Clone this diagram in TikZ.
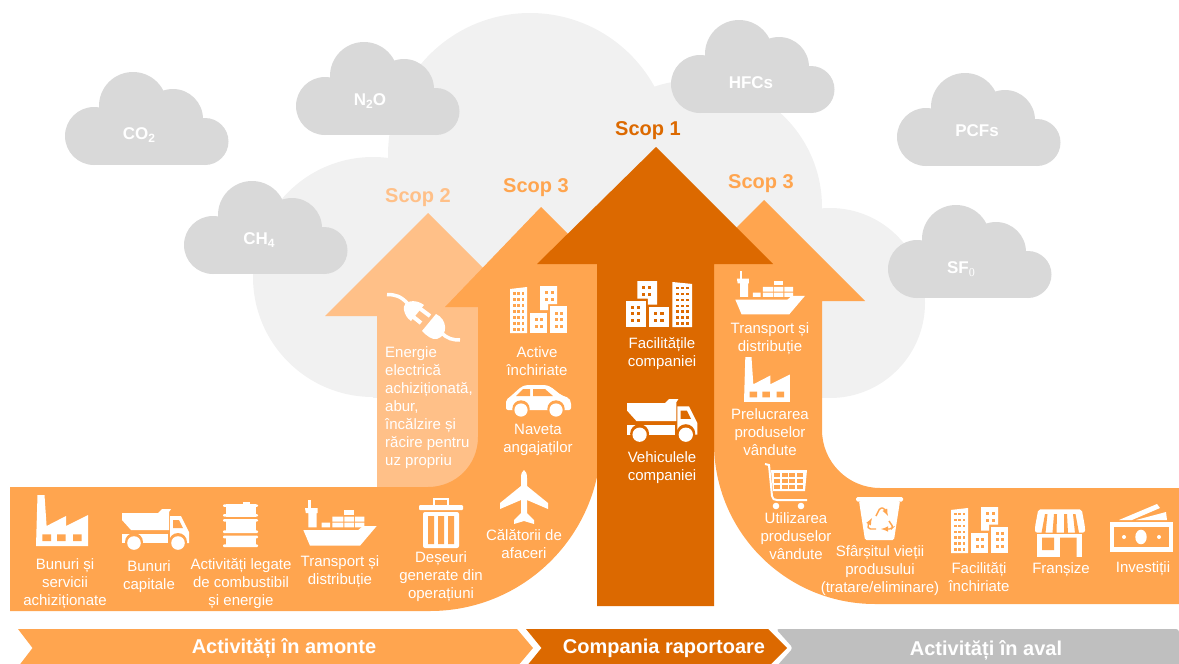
\documentclass[tikz,border=0pt]{standalone}
\usepackage{fontspec}
\setmainfont{Liberation Sans}
\newfontfamily\serifzero{Liberation Serif}
\definecolor{oran}{HTML}{FFA54F}
\definecolor{lite}{HTML}{FFC088}
\definecolor{dark}{HTML}{DC6900}
\definecolor{cloudg}{HTML}{D9D9D9}
\definecolor{bigg}{HTML}{F1F1F1}
\definecolor{barg}{HTML}{BFBFBF}
\newcommand\sbs[1]{\raisebox{-3.5pt}{\fontsize{12}{12}\selectfont #1}}
\newcommand\cloudicon[4]{\begin{scope}[shift={(#1,#2)},scale=#3]
  \fill[#4] (28,64) circle[radius=29] (67,34) circle[radius=34] (107,47) circle[radius=30] (139,69.5) circle[radius=23.5];
  \fill[#4] (28,50) rectangle (139,93);
\end{scope}}
\newcommand\icfactory[4]{\begin{scope}[shift={(#1,#2)},scale=#3]
  \fill[white] (0,51) -- (1.5,0) -- (8.5,0) -- (10.6,31) -- (30,21) -- (30,31) -- (52,20) -- (52,51) -- cycle;
  \fill[#4] (6.3,39.3) rectangle (15,46) (21,39.3) rectangle (29.5,46) (37,39.3) rectangle (45.6,46);
\end{scope}}
\newcommand\ictruck[4]{\begin{scope}[shift={(#1,#2)},scale=#3]
  \fill[white] (0,4) -- (36,4) -- (40,0) -- (49,0) -- (47,3) -- (47,21) -- (9,21) -- (0,11) -- cycle;
  \fill[white] (0,25) -- (46,25) -- (46,34) -- (0,34) -- cycle;
  \fill[white] (48,7) -- (59,7) -- (67,23) -- (67,34) -- (48,34) -- cycle;
  \fill[#4] (51,11) -- (57,11) -- (61,19) -- (51,19) -- cycle;
  \fill[#4] (12,33) circle[radius=9] (56,33) circle[radius=9];
  \fill[white] (12,34) circle[radius=6.8] (56,34) circle[radius=6.8];
\end{scope}}
\newcommand\icbarrel[3]{\begin{scope}[shift={(#1,#2)},scale=#3]
  \fill[white] (20,0) rectangle (27,3);
  \foreach \ya/\yb in {2.3/14.7,17/31,33.7/45}{
    \fill[white] (2.5,\ya) rectangle (32.5,\yb);
    \fill[white,rounded corners=1] (0,\ya) rectangle (35,\ya+2.6);
    \fill[white,rounded corners=1] (0,\yb-2.6) rectangle (35,\yb);
  }
\end{scope}}
\newcommand\icship[3]{\begin{scope}[shift={(#1,#2)},scale=#3]
  \fill[white] (5.3,-1) rectangle (7.7,7);
  \fill[white] (2,7) -- (14.7,7) -- (14.7,12) -- (13.7,12) -- (13.7,26.3) -- (5.3,26.3) -- (5.3,12) -- (2.8,12) -- cycle;
  \fill[white] (18.7,21.7) rectangle (27,26.3) (29.3,21.7) rectangle (40.3,26.3) (41.3,21.7) rectangle (51,26.3) (52,21.7) rectangle (61.3,26.3);
  \fill[white] (29.3,15.7) rectangle (40.3,20.7) (41.3,15.7) rectangle (51,20.7) (52,15.7) rectangle (61.3,20.7);
  \fill[white] (41.3,9) rectangle (51,14);
  \fill[white] (0.3,29) -- (55.3,29) -- (60,25) -- (73.7,25) -- (57,44.7) -- (7,44.7) -- cycle;
\end{scope}}
\newcommand\ictrash[4]{\begin{scope}[shift={(#1,#2)},scale=#3]
  \draw[white,line width=2pt] (15,8) -- (15,2) -- (29,2) -- (29,8);
  \fill[white,rounded corners=1] (0,8) rectangle (44,13);
  \fill[white,rounded corners=2] (4,15) rectangle (40,51);
  \fill[#4] (9,19) rectangle (15,47) (19,19) rectangle (25,47) (29,19) rectangle (35,47);
\end{scope}}
\newcommand\icplane[3]{\begin{scope}[shift={(#1,#2)},scale=#3]
  \fill[white] (0,0) .. controls (2,1) and (3,4) .. (3,8) -- (3,16) -- (24,33) -- (24,39) -- (3,30) -- (3,43) -- (10,50) -- (10,54) -- (0,51) -- (-10,54) -- (-10,50) -- (-3,43) -- (-3,30) -- (-24,39) -- (-24,33) -- (-3,16) -- (-3,8) .. controls (-3,4) and (-2,1) .. (0,0) -- cycle;
\end{scope}}
\newcommand\icbuild[5]{\begin{scope}[shift={(#1,#2)},xscale=#3,yscale=#4]
  \fill[white] (0,3) -- (17,1) -- (17,47) -- (0,47) -- cycle;
  \fill[white] (20,27) rectangle (37,47);
  \fill[white] (30,0) -- (47,0) -- (47,18) -- (38,18) -- (38,24) -- (30,24) -- cycle;
  \fill[white] (40,20) rectangle (57,47);
  \foreach \cx in {3,7.3,11.6} \foreach \cy in {6,12,18,24,30,36,42} \fill[#5] (\cx,\cy) rectangle ++(2.6,2.6);
  \foreach \cx in {24.5,30} \foreach \cy in {32,39} \fill[#5] (\cx,\cy) rectangle ++(3,3);
  \foreach \cx in {44.5,50} \foreach \cy in {25.5,32,39} \fill[#5] (\cx,\cy) rectangle ++(3,3);
  \foreach \cx in {35,40.5} \foreach \cy in {5,12} \fill[#5] (\cx,\cy) rectangle ++(3,3);
\end{scope}}
\newcommand\iccar[4]{\begin{scope}[shift={(#1,#2)},scale=#3]
  \fill[white,rounded corners=2] (0,25) -- (0,15) -- (5,11) -- (15,2) -- (20,0) -- (40,0) -- (45,2) -- (55,10) -- (63,13) -- (65,17) -- (65,25) -- cycle;
  \fill[#4] (17,4) -- (24,4) -- (24,11) -- (10,11) -- cycle (27,4) -- (39,4) -- (47,11) -- (27,11) -- cycle;
  \fill[#4] (15,24) circle[radius=8.7] (50,24) circle[radius=8.7];
  \fill[white] (15,25) circle[radius=6.6] (50,25) circle[radius=6.6];
\end{scope}}
\newcommand\icplug[3]{\begin{scope}[shift={(#1,#2)},scale=#3]
  \draw[white,line width=3.5pt] (0,1.5) .. controls (8,1.5) and (14,3) .. (21,11);
  \fill[white] (37,12) .. controls (28,5) and (15,8) .. (17,17) .. controls (18,22) and (20,25) .. (24,28) -- cycle;
  \draw[white,line width=4pt] (31,14) -- (43,23) (24,22) -- (34,30);
  \fill[white] (35,38) -- (49,21) .. controls (60,26) and (62,42) .. (50,46) .. controls (45,47) and (40,43) .. (35,38) -- cycle;
  \draw[white,line width=3.5pt] (54,39) .. controls (60,46) and (66,47) .. (73,47);
\end{scope}}
\newcommand\iccart[4]{\begin{scope}[shift={(#1,#2)},scale=#3]
  \draw[white,line width=2pt] (0,1) -- (4,2) -- (7,33) .. controls (7.5,36) and (9,37) .. (12,37) -- (42,37);
  \fill[white] (6,7) -- (42,7) -- (40,28) -- (8,28) -- cycle;
  \foreach \cx in {9,16.7,24.4,32.1} \foreach \cy in {10,16,22} \fill[#4] (\cx,\cy) rectangle ++(6,4);
  \fill[white] (11,43) circle[radius=3.3] (36,43) circle[radius=3.3];
\end{scope}}
\newcommand\icbin[4]{\begin{scope}[shift={(#1,#2)},scale=#3]
  \fill[white,rounded corners=1.5] (0,0) rectangle (47,4.5);
  \fill[white,rounded corners=1.5] (3,4) -- (44,4) -- (38,43) -- (9,43) -- cycle;
  \draw[#4,line width=1.4pt,rounded corners=1.5,-latex] (20,19) -- (24,11) -- (28,11) -- (32,19);
  \draw[#4,line width=1.4pt,rounded corners=1.5,-latex] (33,24) -- (37,30) -- (35,32) -- (25,32);
  \draw[#4,line width=1.4pt,rounded corners=1.5,-latex] (20,32) -- (13,32) -- (11.5,29) -- (16,21);
\end{scope}}
\newcommand\icstore[4]{\begin{scope}[shift={(#1,#2)},scale=#3]
  \fill[white,rounded corners=2] (4.3,1.3) -- (47.7,1.3) -- (51,19) -- (51,24.5) -- (1,24.5) -- (1,19) -- cycle;
  \fill[#4] (11,6) -- (13.5,6) -- (11.5,25) -- (7.5,25) -- cycle
            (20,6) -- (23,6) -- (22.5,25) -- (18.5,25) -- cycle
            (30,6) -- (33,6) -- (34,25) -- (30,25) -- cycle
            (39,6) -- (41.5,6) -- (45,25) -- (41,25) -- cycle;
  \fill[white] (2.7,26) rectangle (47.7,49.3);
  \fill[#4] (8,29.7) rectangle (20,42) (26,29.7) rectangle (42.7,49.4);
\end{scope}}
\newcommand\icmoney[4]{\begin{scope}[shift={(#1,#2)},scale=#3]
  \fill[white] (9,16) -- (47,0) -- (50,4) -- (22,16) -- cycle;
  \fill[white] (26,16) -- (56,8) -- (57,16) -- cycle;
  \fill[white] (0,18) rectangle (63,48);
  \fill[#4] (4,23) rectangle (59,43);
  \fill[white] (31,33) ellipse[x radius=5.7,y radius=7.3];
  \fill[white] (14,33) circle[radius=2] (49,33) circle[radius=2];
\end{scope}}
\tikzset{
  lab/.style={text=white,align=center,inner sep=0pt,font=\fontsize{15}{18}\selectfont},
  labl/.style={text=white,align=left,inner sep=0pt,anchor=north west,font=\fontsize{15}{18}\selectfont},
  gas/.style={text=white,inner sep=0pt,font=\bfseries\fontsize{17}{20}\selectfont},
  scop/.style={inner sep=0pt,font=\bfseries\fontsize{20}{24}\selectfont},
  bar/.style={text=white,inner sep=0pt,font=\bfseries\fontsize{20}{24}\selectfont}
}
\begin{document}
\begin{tikzpicture}[x=1pt,y=-1pt]
\useasboundingbox (0,0) rectangle (1179,664);
\clip (0,0) rectangle (1179,664);
% background cloud
\fill[bigg] (373,277) circle[radius=120] (530,155) circle[radius=142] (695,207) circle[radius=127] (830,303) circle[radius=95];
\fill[bigg] (373,220) rectangle (830,398);
% small clouds
\cloudicon{66}{72}{1}{cloudg}
\cloudicon{297}{42}{1}{cloudg}
\cloudicon{672}{20}{1}{cloudg}
\cloudicon{898}{73}{1}{cloudg}
\cloudicon{185}{181}{1}{cloudg}
\cloudicon{889}{205}{1}{cloudg}
\node[gas] (co2) at (139,135) {CO\sbs{2}};
\node[gas] (n2o) at (370,101) {N\sbs{2}O};
\node[gas] (hfc) at (751,83) {HFCs};
\node[gas] (pcf) at (977,131) {PCFs};
\node[gas] (ch4) at (259,240) {CH\sbs{4}};
\node[gas] (sf0) at (961,269) {SF\raisebox{-3.5pt}{\serifzero\mdseries\fontsize{12}{12}\selectfont 0}};
% Scope 2 arrow
\fill[lite] (428,213) -- (531,316) -- (500,316) -- (500,487) -- (377,487) -- (377,316) -- (325,316) -- cycle;
% Scope 3 upstream
\fill[oran] (541,207) -- (641,307) -- (601,307) -- (601,440) .. controls (601,534.4) and (524.4,611) .. (430,611) -- (10,611) -- (10,487) -- (428,487) .. controls (456,487) and (478,465) .. (478,437) -- (478,307) -- (445,307) -- cycle;
% Scope 3 downstream
\fill[oran] (764,200) -- (865,301) -- (822,301) -- (822,430) .. controls (822,462) and (848,488) .. (880,488) -- (1179,488) -- (1179,604) -- (875,604) .. controls (786,604) and (714,532) .. (714,443) -- (664,301) -- (664,300) -- cycle;
% Scope 1
\fill[dark] (656,147) -- (773,264) -- (714,264) -- (714,606) -- (597,606) -- (597,264) -- (537,264) -- cycle;
% scope labels
\node[scop,text=lite] (s2) at (418,198) {Scop 2};
\node[scop,text=oran] (s3a) at (536,188) {Scop 3};
\node[scop,text=dark] (s1) at (648,131) {Scop 1};
\node[scop,text=oran] (s3b) at (761,184) {Scop 3};
% icons
\icfactory{36}{495}{1}{oran}
\ictruck{122}{509}{1}{oran}
\icbarrel{223}{502}{1}
\icship{303}{501}{1}
\ictrash{419}{497}{1}{oran}
\icplane{524}{470}{1}
\icplug{387}{293}{1}
\icbuild{510}{286}{1}{1}{oran}
\iccar{506}{385}{1}{oran}
\icbuild{692}{281}{-1.16}{0.98}{dark}
\ictruck{627}{399}{1.05}{dark}
\icship{735}{272}{0.95}
\icfactory{744}{357}{0.88}{oran}
\iccart{765}{463}{1}{oran}
\icbin{856}{497}{1}{oran}
\icbuild{951}{507}{1}{0.98}{oran}
\icstore{1034}{508}{1}{oran}
\icmoney{1110}{504}{1}{oran}
% labels
\node[lab] (l1) at (65,584) {Bunuri și\\servicii\\achiziționate};
\node[lab] (l2) at (149,576.5) {Bunuri\\capitale};
\node[lab] (l3) at (241,583.5) {Activități legate\\de combustibil\\și energie};
\node[lab] (l4) at (340,571.5) {Transport și\\distribuție};
\node[lab] (l5) at (441,577) {Deșeuri\\generate din\\operațiuni};
\node[lab] (l6) at (524,544.5) {Călătorii de\\afaceri};
\node[labl] (l7) at (385,346.5) {Energie\\electrică\\achiziționată,\\abur,\\încălzire și\\răcire pentru\\uz propriu};
\node[lab] (l8) at (537,361) {Active\\închiriate};
\node[lab] (l9) at (538,439.5) {Naveta\\angajaților};
\node[lab] (l10) at (662,353.5) {Facilitățile\\companiei};
\node[lab] (l11) at (662,467.5) {Vehiculele\\companiei};
\node[lab] (l12) at (770,338.5) {Transport și\\distribuție};
\node[lab] (l13) at (770,432.5) {Prelucrarea\\produselor\\vândute};
\node[lab] (l14) at (796,536.5) {Utilizarea\\produselor\\vândute};
\node[lab] (l15) at (880,570.5) {Sfârșitul vieții\\produsului\\(tratare/eliminare)};
\node[lab] (l16) at (979,577.5) {Facilități\\închiriate};
\node[lab] (l17) at (1061,570) {Franșize};
\node[lab] (l18) at (1143,569) {Investiții};
% bottom chevrons
\fill[oran] (18,629) -- (517,629) -- (533,648) -- (517,667) -- (18,667) -- (32.5,648) -- cycle;
\fill[dark] (526,629) -- (768,629) -- (787,648) -- (768,667) -- (526,667) -- (541.5,648) -- cycle;
\fill[barg,rounded corners=3] (1179,629) -- (776,629) -- (793,648) -- (776,667) -- (1179,667) -- cycle;
\node[bar] (b1) at (284,648) {Activități în amonte};
\node[bar] (b2) at (664,648) {Compania raportoare};
\node[bar] (b3) at (986,650) {Activități în aval};
\end{tikzpicture}
\end{document}
